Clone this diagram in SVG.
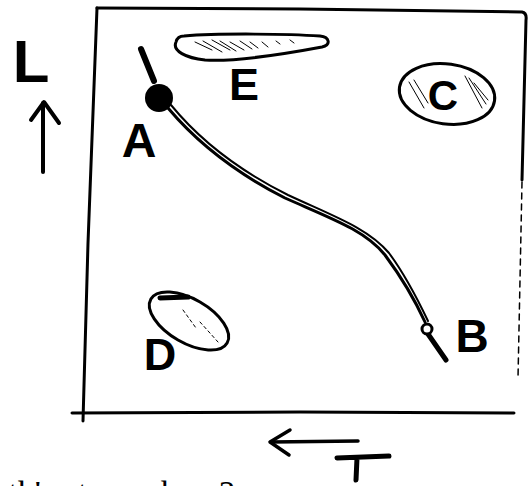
<svg xmlns="http://www.w3.org/2000/svg" width="532" height="486" viewBox="0 0 532 486">
<defs>
<style>
.ink{fill:none;stroke:#000;stroke-linecap:round;stroke-linejoin:round}
.lbl{font-family:"Liberation Sans",Arial,sans-serif;font-weight:bold;fill:#000;text-anchor:middle}
.hatch{fill:none;stroke:#000;stroke-width:1;stroke-linecap:round}
</style>
</defs>
<rect width="532" height="486" fill="#fff"/>
<g id="frame">
<path class="ink" stroke-width="3" d="M97,8 L300,9 L522,12 Q527,13 526,20 L522,180"/>
<path class="ink" stroke-width="1.5" stroke-dasharray="6,5" d="M522,182 L518,378"/>
<path class="ink" stroke-width="3" d="M97,8 L88,243 L83,421"/>
<path class="ink" stroke-width="3" d="M72,413 L300,412 L514,413"/>
</g>
<g id="axis-L">
<text class="lbl" x="31" y="82" font-size="60">L</text>
<path class="ink" stroke-width="4" d="M43,103 L43,172"/>
<path class="ink" stroke-width="4" d="M31,120 L44,102 L59,123"/>
</g>
<g id="axis-T">
<path class="ink" stroke-width="3.5" d="M271,442 L358,441"/>
<path class="ink" stroke-width="3.5" d="M290,430 L270,442 L289,455"/>
<path class="ink" stroke-width="5" d="M337,458 L389,456 M357,458 L356,480"/>
</g>
<g id="connectors">
<path class="ink" stroke-width="3" d="M168,108 C195,140 230,170 285,198 C330,218 365,230 385,255 C402,278 415,300 425,322"/>
<path class="ink" stroke-width="2" d="M171,105 C198,138 234,168 288,195 C333,216 368,228 389,253 C406,276 418,300 428,321"/>
<path class="ink" stroke-width="6" d="M141,49 L154,81"/>
<path class="ink" stroke-width="5" d="M428,334 L446,360"/>
</g>
<g id="node-A">
<circle cx="159" cy="98" r="14" fill="#000"/>
<text class="lbl" x="139" y="157" font-size="48">A</text>
</g>
<g id="node-B">
<circle cx="427" cy="329" r="5" fill="#fff" stroke="#000" stroke-width="3"/>
<text class="lbl" x="472" y="352" font-size="46">B</text>
</g>
<g id="node-E">
<path class="ink" stroke-width="3" fill="#fff" d="M184,36 C220,33 290,34 320,36 C330,37 331,45 322,47 C290,53 240,62 205,60 C186,58 172,51 176,42 C177,38 180,36 184,36 Z"/>
<path class="hatch" d="M195,42 L212,50 M203,41 L222,52 M212,40 L230,50 M220,41 L236,51 M230,42 L244,50 M240,41 L252,49 M250,42 L258,48 M262,42 L268,47 M276,41 L280,44 M290,40 L294,43"/>
<text class="lbl" x="244" y="100" font-size="45">E</text>
</g>
<g id="node-C">
<ellipse class="ink" stroke-width="3" fill="#fff" cx="447" cy="94" rx="48" ry="30" transform="rotate(8 447 94)"/>
<path class="hatch" d="M409,82 L424,108 M414,80 L428,103 M465,76 L482,108 M469,78 L486,104 M474,83 L488,100"/>
<text class="lbl" x="443" y="110" font-size="42">C</text>
</g>
<g id="node-D">
<ellipse class="ink" stroke-width="3" fill="#fff" cx="189" cy="321" rx="44" ry="22" transform="rotate(30 189 321)"/>
<path class="ink" stroke-width="5" d="M160,298 L188,297"/>
<path class="hatch" stroke-dasharray="3,3" d="M183,310 L196,328 M200,322 L218,342"/>
<text class="lbl" x="160" y="370" font-size="45">D</text>
</g>
<text x="-3" y="504" font-family="Liberation Serif,Times New Roman,serif" font-size="34" fill="#000">rth's atmosphere?</text>
</svg>
